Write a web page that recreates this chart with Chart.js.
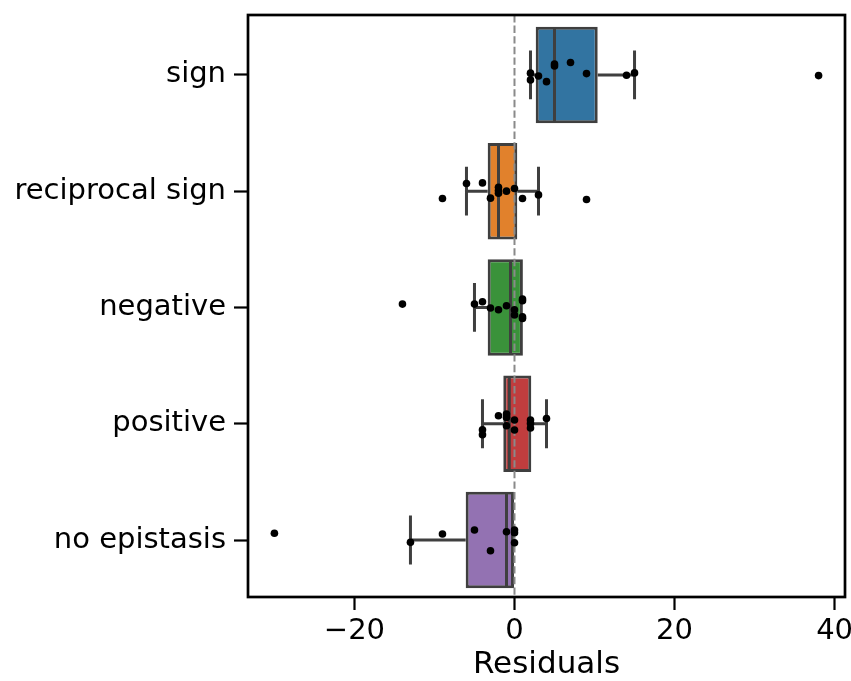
<!DOCTYPE html>
<html>
<head>
<meta charset="utf-8">
<script src="https://cdn.jsdelivr.net/npm/chart.js@4.4.1/dist/chart.umd.min.js"></script>
<style>
  html, body { margin: 0; padding: 0; background: #fff; }
  #wrap { width: 851px; height: 681px; }
</style>
</head>
<body>
<div id="wrap"><canvas id="residualsChart" width="851" height="681"></canvas></div>
<script>
// categories, top to bottom
const categories = ['sign', 'reciprocal sign', 'negative', 'positive', 'no epistasis'];
const boxColors = ['#3274a1', '#e1812c', '#3a923a', '#c03d3e', '#9372b2'];

// box statistics
const q1 = [2.65, -3.35, -3.35, -1.4, -6.1];
const median = [5, -2, -0.5, -0.65, -1];
const q3 = [10.4, 0.35, 1.05, 2.1, 0];
const whiskerLo = [2, -6, -5, -4, -13];
const whiskerHi = [15, 3, 1.05, 4, 0];

// strip points: residual value and vertical jitter (category units)
const signX = [2, 2, 3, 4, 5, 5, 7, 9, 14, 15, 38];
const signJ = [-0.015, 0.043, 0.009, 0.058, -0.094, -0.077, -0.106, -0.011, 0.003, -0.017, 0.006];
const recipX = [-9, -6, -4, -3, -2, -2, -2, -1, 0, 1, 3, 9];
const recipJ = [0.063, -0.066, -0.071, 0.060, -0.034, -0.006, 0.017, 0, -0.023, 0.063, 0.032, 0.071];
const negX = [-14, -5, -4, -3, -2, -1, 0, 0, 1, 1, 1, 1];
const negJ = [-0.029, -0.029, -0.049, 0.005, 0.020, -0.015, 0.020, 0.065, -0.072, -0.058, 0.080, 0.094];
const posX = [-4, -4, -2, -1, -1, -1, 0, 0, 2, 2, 2, 4];
const posJ = [0.052, 0.094, -0.069, -0.083, -0.054, 0.017, -0.032, 0.054, -0.032, -0.003, 0.037, -0.045];
const noneX = [-30, -13, -9, -5, -3, -1, 0, 0, 0];
const noneJ = [-0.058, 0.020, -0.052, -0.086, 0.092, -0.071, -0.086, -0.063, 0.023];

const xTicks = [-20, 0, 20, 40];

const pointGroups = [[signX, signJ], [recipX, recipJ], [negX, negJ], [posX, posJ], [noneX, noneJ]];
const stripPoints = [];
pointGroups.forEach(([xs, js], i) => {
  xs.forEach((v, k) => stripPoints.push({ x: v, y: i + js[k] }));
});

const EDGE = '#3f3f3f';
const LW = 3;
const BAR_PCT = 0.83;
const CAP = 0.21; // half cap length in category units

// whiskers, medians and the zero line, drawn right after the boxes
const boxExtras = {
  id: 'boxExtras',
  afterDatasetDraw(chart, args) {
    if (args.index !== 0) return;
    const ctx = chart.ctx;
    const xs = chart.scales.x;
    const ys = chart.scales.y;
    const half = BAR_PCT / 2;
    ctx.save();
    ctx.strokeStyle = EDGE;
    ctx.lineWidth = LW;
    ctx.lineCap = 'butt';
    categories.forEach((c, i) => {
      const yc = ys.getPixelForValue(i);
      // median
      const xm = xs.getPixelForValue(median[i]);
      ctx.beginPath();
      ctx.moveTo(xm, ys.getPixelForValue(i - half) + LW / 2);
      ctx.lineTo(xm, ys.getPixelForValue(i + half) - LW / 2);
      ctx.stroke();
      // whiskers + caps
      [[q1[i], whiskerLo[i]], [q3[i], whiskerHi[i]]].forEach(([edge, w]) => {
        if (Math.abs(edge - w) < 0.01) return;
        const xe = xs.getPixelForValue(edge);
        const xw = xs.getPixelForValue(w);
        ctx.beginPath();
        ctx.moveTo(xe, yc);
        ctx.lineTo(xw, yc);
        ctx.moveTo(xw, ys.getPixelForValue(i - CAP));
        ctx.lineTo(xw, ys.getPixelForValue(i + CAP));
        ctx.stroke();
      });
    });
    // dashed zero line
    const x0 = xs.getPixelForValue(0);
    ctx.strokeStyle = '#8a8a8a';
    ctx.lineWidth = 2;
    ctx.setLineDash([7.4, 3.2]);
    ctx.beginPath();
    ctx.moveTo(x0, chart.chartArea.top);
    ctx.lineTo(x0, chart.chartArea.bottom);
    ctx.stroke();
    ctx.restore();
  },
  afterDraw(chart) {
    const { left, top, right, bottom } = chart.chartArea;
    const ctx = chart.ctx;
    ctx.save();
    ctx.strokeStyle = '#000';
    ctx.lineWidth = 2.7;
    ctx.strokeRect(left, top, right - left, bottom - top);
    ctx.restore();
  }
};

const tickFont = { family: 'DejaVu Sans', size: 29 };

new Chart(document.getElementById('residualsChart').getContext('2d'), {
  type: 'bar',
  data: {
    datasets: [
      {
        type: 'bar',
        indexAxis: 'y',
        order: 1,
        data: categories.map((c, i) => ({ y: i, x: [q1[i], q3[i]] })),
        backgroundColor: boxColors,
        borderColor: EDGE,
        borderWidth: LW,
        borderSkipped: false,
        barPercentage: BAR_PCT,
        categoryPercentage: 1
      },
      {
        type: 'scatter',
        order: 0,
        data: stripPoints,
        backgroundColor: '#000',
        borderWidth: 0,
        pointRadius: 3.8
      }
    ]
  },
  options: {
    responsive: false,
    animation: false,
    layout: { padding: { top: 15, right: 6, left: 0, bottom: 0 } },
    plugins: { legend: { display: false }, tooltip: { enabled: false } },
    scales: {
      x: {
        type: 'linear',
        offset: false,
        min: -33.3,
        max: 41.3,
        afterBuildTicks: (scale) => { scale.ticks = xTicks.map(v => ({ value: v })); },
        afterFit: (scale) => { scale.height = 84; scale.paddingLeft = 0; scale.paddingRight = 0; },
        grid: { offset: false, drawOnChartArea: false, drawTicks: true, tickLength: 13, tickWidth: 2.2, tickColor: '#000' },
        border: { display: false },
        ticks: {
          font: tickFont,
          color: '#000',
          padding: 4,
          maxRotation: 0,
          callback: (v) => (v < 0 ? '\u2212' + Math.abs(v) : String(v))
        },
        title: {
          display: true,
          text: 'Residuals',
          color: '#000',
          font: { family: 'DejaVu Sans', size: 31, lineHeight: 1 },
          padding: { top: 0, bottom: 1 }
        }
      },
      y: {
        type: 'linear',
        offset: false,
        min: -0.515,
        max: 4.49,
        reverse: true,
        afterBuildTicks: (scale) => { scale.ticks = categories.map((c, i) => ({ value: i })); },
        afterFit: (scale) => { scale.width = 248; scale.paddingTop = 0; scale.paddingBottom = 0; },
        grid: { offset: false, drawOnChartArea: false, drawTicks: true, tickLength: 14, tickWidth: 2.2, tickColor: '#000' },
        border: { display: false },
        ticks: {
          font: tickFont,
          color: '#000',
          padding: 8,
          callback: (v) => categories[v]
        }
      }
    }
  },
  plugins: [boxExtras]
});
</script>
</body>
</html>
